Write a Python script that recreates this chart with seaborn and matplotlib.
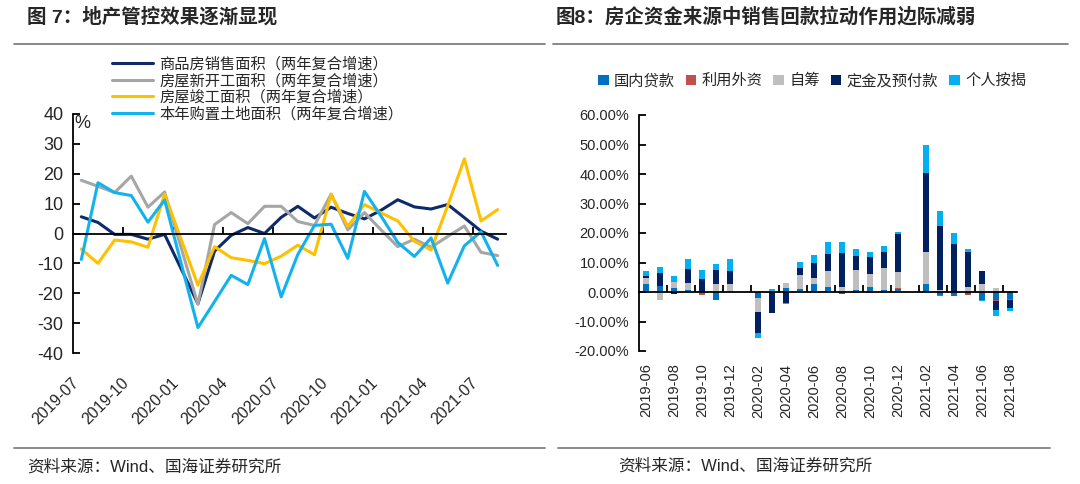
import matplotlib
matplotlib.use("Agg")
import matplotlib.pyplot as plt
import seaborn as sns
import numpy as np
import pandas as pd
from matplotlib.lines import Line2D
from matplotlib.patches import Patch
from matplotlib.ticker import FuncFormatter

# 图7 data: two-year compound growth, %
months7 = ["2019-07", "2019-08", "2019-09", "2019-10", "2019-11", "2019-12",
           "2020-01", "2020-02", "2020-03", "2020-04", "2020-05", "2020-06",
           "2020-07", "2020-08", "2020-09", "2020-10", "2020-11", "2020-12",
           "2021-01", "2021-02", "2021-03", "2021-04", "2021-05", "2021-06",
           "2021-07", "2021-08"]
sales_area = [5.6, 3.7, -0.3, -0.3, -1.9, -0.3, np.nan, -23.5, -5.9, -0.6, 2.0, 0.0,
              5.4, 9.1, 5.2, 8.8, 6.7, 4.9, 7.8, 11.3, 8.9, 8.2, 9.7, 5.3, 0.8, -1.9]
new_start = [17.8, 15.8, 13.7, 19.2, 8.8, 13.9, np.nan, -23.7, 3.0, 7.0, 3.3, 9.1,
             9.1, 4.0, 2.7, 13.2, 1.2, 7.0, 1.2, -4.4, -1.9, -4.6, -1.0, 2.5, -6.3, -7.4]
completed = [-5.2, -10.0, -2.2, -2.8, -4.6, 13.2, np.nan, -17.3, -4.4, -8.1, -9.0, -10.1,
             -7.6, -3.9, -7.1, 13.0, 2.4, 9.7, 6.9, 4.2, -2.6, -5.5, 9.3, 25.0, 4.2, 8.0]
land_area = [-8.7, 17.0, 13.7, 12.7, 3.8, 11.2, np.nan, -31.5, -22.8, -14.0, -17.1, -1.7,
             -21.2, -7.0, 2.7, 3.1, -8.3, 14.1, 5.8, -3.0, -7.7, -1.5, -16.6, -4.1, 0.6, -10.7]
names7 = ["商品房销售面积（两年复合增速）", "房屋新开工面积（两年复合增速）",
          "房屋竣工面积（两年复合增速）", "本年购置土地面积（两年复合增速）"]
colors7 = ["#0E2A6B", "#A6A6A6", "#FFC000", "#12B2EE"]

# 图8 data: contribution to funding growth, %
months8 = ["2019-06", "2019-07", "2019-08", "2019-09", "2019-10", "2019-11", "2019-12",
           "2020-01", "2020-02", "2020-03", "2020-04", "2020-05", "2020-06", "2020-07",
           "2020-08", "2020-09", "2020-10", "2020-11", "2020-12", "2021-01", "2021-02",
           "2021-03", "2021-04", "2021-05", "2021-06", "2021-07", "2021-08"]
domestic_loan = [2.6, 2.0, 1.4, 0.6, -0.4, -2.6, 0.0, 0.0, -2.0, 0.3, 1.2, 0.9, 2.6, 1.7,
                 -0.6, 0.6, 1.7, 0.8, 0.9, 0.0, 2.8, -1.1, -1.5, -0.8, -2.6, -2.8, -2.5]
foreign_capital = [0.0, 0.0, 0.0, 0.0, -0.5, 0.0, 0.0, 0.0, -0.2, 0.0, 0.0, 0.0, 0.0, 0.0,
                   0.0, -0.3, -0.4, 0.0, 0.3, 0.0, 0.0, -0.4, 0.0, -0.3, 0.0, -0.2, -0.2]
self_raised = [2.2, -2.6, 1.9, 2.3, 0.0, 2.6, 2.6, 0.0, -4.7, 0.0, 1.8, 4.8, 2.2, 5.4,
               1.7, 7.0, 4.3, 7.3, 5.6, 0.0, 10.7, 0.8, 0.0, 1.7, 2.8, 1.4, 0.3]
deposits = [0.7, 4.5, -0.8, 4.8, 4.3, 5.0, 4.4, 0.0, -7.0, -7.0, -3.6, 2.5, 5.1, 5.9,
            11.6, 4.6, 5.9, 5.3, 12.9, 0.0, 26.8, 21.5, 16.2, 11.9, 4.3, -3.2, -2.6]
mortgage = [1.6, 1.9, 2.0, 3.4, 3.1, 1.8, 4.2, 0.0, -1.8, 0.8, -0.6, 2.0, 2.6, 4.0,
            3.6, 2.4, 1.7, 2.3, 0.7, 0.0, 9.7, 5.2, 3.8, 1.0, -0.6, -2.0, -1.1]
names8 = ["国内贷款", "利用外资", "自筹", "定金及预付款", "个人按揭"]
colors8 = ["#0070C0", "#C0504D", "#BFBFBF", "#002060", "#00B0F0"]

sns.set_theme(style="white")
plt.rcParams["font.family"] = ["Liberation Sans", "Noto Sans CJK SC"]
plt.rcParams["axes.unicode_minus"] = False

fig = plt.figure(figsize=(10.8, 4.84), dpi=100)
W, H = 1080, 484


def fx(px):
    return px / W


def fy(py):
    return 1 - py / H


def axis_style(ax, minor_pos, size):
    ax.spines["top"].set_position(("data", 0))
    ax.spines["top"].set_linewidth(1.3)
    ax.spines["left"].set_linewidth(1.3)
    for s in ("top", "left"):
        ax.spines[s].set_color("black")
    ax.spines["bottom"].set_visible(False)
    ax.spines["right"].set_visible(False)
    ax.set_xticks(minor_pos, minor=True)
    ax.tick_params(axis="x", which="minor", bottom=False, top=True, direction="out",
                   length=5, width=1.3, color="black")
    ax.tick_params(axis="y", which="major", left=True, direction="in", length=5,
                   width=1.3, color="black", labelsize=size, pad=7)
    ax.grid(False)


# ---------- 图7 ----------
ax1 = fig.add_axes([fx(73), fy(353), fx(506) - fx(73), fy(114) - fy(353)])
df7 = pd.DataFrame({"idx": np.tile(np.arange(len(months7)), 4),
                    "value": np.concatenate([sales_area, new_start, completed, land_area]),
                    "series": np.repeat(names7, len(months7))})
sns.lineplot(data=df7, x="idx", y="value", hue="series", hue_order=names7,
             palette=colors7, linewidth=2.2, estimator=None, ax=ax1)
ax1.set_xlim(-0.5, len(months7) - 0.5)
ax1.set_ylim(-40, 40)
ax1.set_yticks(range(-40, 41, 10))
ax1.set_xticks(range(0, len(months7), 3))
ax1.set_xticklabels(months7[::3])
axis_style(ax1, np.arange(2.5, 24, 3), 13)
ax1.tick_params(axis="x", which="major", bottom=False, top=False, labelbottom=True,
                labeltop=False, labelsize=11.5, pad=10, labelrotation=45)
ax1.set_xlabel("")
ax1.set_ylabel("")
ax1.text(0.004, 0.995, "%", transform=ax1.transAxes, ha="left", va="top", fontsize=13)
h, l = ax1.get_legend_handles_labels()
ax1.legend(h, l, loc="upper left", bbox_to_anchor=(fx(112), fy(57)),
           bbox_transform=fig.transFigure, frameon=False, fontsize=11,
           handlelength=2.7, handletextpad=0.4, labelspacing=0.12,
           borderpad=0, borderaxespad=0)

# ---------- 图8 ----------
ax2 = fig.add_axes([fx(639), fy(351), fx(1017) - fx(639), fy(115) - fy(351)])
arr = np.array([domestic_loan, foreign_capital, self_raised, deposits, mortgage])
pos = np.clip(arr, 0, None).cumsum(axis=0)
neg = np.clip(arr, None, 0).cumsum(axis=0)
for k in reversed(range(len(names8))):
    for stack in (pos[k], neg[k]):
        sns.barplot(x=months8, y=stack, color=colors8[k], width=0.48, saturation=1,
                    linewidth=0, errorbar=None, ax=ax2)
ax2.set_xlim(-0.5, len(months8) - 0.5)
ax2.set_ylim(-20, 60)
ax2.set_yticks(range(-20, 61, 10))
ax2.yaxis.set_major_formatter(FuncFormatter(lambda v, p: f"{v:.2f}%"))
ax2.set_xticks(range(0, len(months8), 2))
ax2.set_xticklabels(months8[::2])
axis_style(ax2, np.arange(1.5, 26, 2), 10.5)
ax2.tick_params(axis="x", which="major", bottom=False, top=False, labelbottom=True,
                labeltop=False, labelsize=10.5, pad=3, labelrotation=90)
ax2.set_xlabel("")
ax2.set_ylabel("")
handles8 = [Patch(facecolor=c, edgecolor="none") for c in colors8]
fig.legend(handles8, names8, loc="center left", bbox_to_anchor=(fx(598), fy(81)),
           frameon=False, ncol=5, fontsize=11, handlelength=0.7, handleheight=0.7,
           handletextpad=0.35, columnspacing=0.7, borderpad=0, borderaxespad=0)

# ---------- titles, rules, sources ----------
fig.text(fx(27), fy(17), "图 7：地产管控效果逐渐显现", fontsize=14, weight="bold",
         ha="left", va="center")
fig.text(fx(556), fy(17), "图8：房企资金来源中销售回款拉动作用边际减弱", fontsize=14,
         weight="bold", ha="left", va="center")
for x0, x1 in ((14, 545), (553, 1068)):
    fig.add_artist(Line2D([fx(x0), fx(x1)], [fy(44)] * 2, color="#7F7F7F", lw=1.3))
for x0, x1 in ((14, 545), (558, 1050)):
    fig.add_artist(Line2D([fx(x0), fx(x1)], [fy(448)] * 2, color="#7F7F7F", lw=1.3))
fig.text(fx(27), fy(467), "资料来源：Wind、国海证券研究所", fontsize=12, ha="left", va="center")
fig.text(fx(618), fy(466), "资料来源：Wind、国海证券研究所", fontsize=12, ha="left", va="center")

for t in ax1.get_xticklabels():
    t.set_ha("right")
    t.set_va("top")
for t in ax2.get_xticklabels():
    t.set_ha("center")
    t.set_va("top")

fig.savefig("out.png", dpi=100)
